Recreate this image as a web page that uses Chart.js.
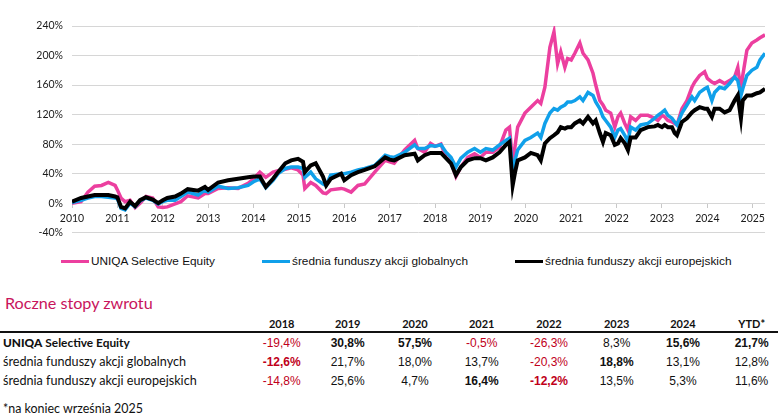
<!DOCTYPE html>
<html><head><meta charset="utf-8">
<script src="https://cdn.jsdelivr.net/npm/chart.js@4.4.1/dist/chart.umd.min.js"></script>
<style>
html,body{margin:0;padding:0;background:#fff;width:784px;height:420px;overflow:hidden;}
#wrap{position:relative;width:784px;height:420px;}
#c{position:absolute;left:0;top:0;}
.abs{position:absolute;white-space:nowrap;line-height:16px;}
.lg{font-family:"Liberation Sans",Arial,sans-serif;font-size:11.2px;color:#111;transform-origin:0 50%;}
.lgline{position:absolute;height:3.5px;width:28px;}
.title{font-family:Lato,"Open Sans",sans-serif;font-size:16px;color:#c8145c;line-height:20px;}
.hdr{font-family:Lato,sans-serif;font-weight:700;font-size:11px;color:#111;transform:translateX(-50%);}
.rl{font-family:Lato,sans-serif;font-size:12px;color:#111;}
.val{font-family:"Liberation Sans",Arial,sans-serif;font-size:12px;color:#111;transform:translateX(-50%);}
.note{font-family:Lato,sans-serif;font-size:12px;color:#111;}
</style></head><body>
<div id="wrap"><canvas id="c" width="784" height="248"></canvas></div>
<script>
// ---- data ----
const years = [2010.0,2010.2,2010.35,2010.5,2010.65,2010.8,2010.95,2011.0,2011.08,2011.17,2011.28,2011.39,2011.5,2011.63,2011.78,2011.9,2012.0,2012.1,2012.27,2012.4,2012.55,2012.78,2012.93,2013.0,2013.22,2013.44,2013.66,2013.88,2014.0,2014.14,2014.27,2014.43,2014.54,2014.7,2014.83,2014.98,2015.09,2015.13,2015.26,2015.37,2015.53,2015.6,2015.7,2015.93,2016.0,2016.15,2016.3,2016.45,2016.67,2016.9,2017.0,2017.1,2017.33,2017.55,2017.62,2017.77,2017.9,2018.0,2018.13,2018.24,2018.35,2018.46,2018.57,2018.72,2018.87,2019.0,2019.12,2019.27,2019.42,2019.56,2019.64,2019.71,2019.76,2019.82,2019.98,2020.11,2020.26,2020.33,2020.42,2020.53,2020.62,2020.7,2020.77,2020.86,2020.92,2021.0,2021.08,2021.19,2021.26,2021.37,2021.48,2021.54,2021.63,2021.7,2021.76,2021.87,2021.96,2022.03,2022.09,2022.18,2022.25,2022.31,2022.42,2022.53,2022.69,2022.84,2022.91,2023.0,2023.06,2023.13,2023.22,2023.28,2023.33,2023.44,2023.55,2023.66,2023.72,2023.83,2023.94,2024.0,2024.1,2024.16,2024.27,2024.38,2024.49,2024.6,2024.67,2024.74,2024.78,2024.87,2024.98,2025.09,2025.16,2025.27];
const uniqa = [0,2,15,23,24,28,24,18,7,2,4,-6,0,9,7,-5,-6,-5,-1,2,10,7,13,13,20,21,20,27,33,42,35,42,44,46,48,45,38,20,28,24,14,13,18,20,19,15,24,26,42,58,56,54,72,85,74,69,81,77,80,62,56,36,49,62,67,62,69,69,76,99,103,54,76,103,122,130,139,135,157,211,232,189,205,184,196,194,203,217,203,194,176,160,139,133,126,122,103,117,122,108,99,117,112,119,119,115,112,119,117,112,110,108,106,128,139,157,164,173,178,169,164,162,166,162,166,171,184,153,173,207,217,221,224,228];
const global = [1,4,7,9,9,8,7,6,-7,-9,0,-5,3,7,4,-1,2,4,4,9,15,11,18,15,23,20,21,24,29,33,21,31,40,47,49,49,47,35,42,33,26,24,38,40,40,42,45,47,51,65,63,62,69,79,74,74,78,77,79,69,62,49,61,69,74,69,74,72,79,85,88,45,58,72,85,89,95,89,108,122,128,126,130,133,137,137,139,144,139,150,146,137,128,117,112,103,89,99,101,92,83,103,99,106,108,115,119,123,126,119,115,110,106,122,133,144,139,150,155,157,139,150,157,155,162,171,166,146,155,173,180,184,194,203];
const europe = [2,7,9,11,11,11,9,8,-5,-7,2,-4,4,8,5,0,4,7,9,13,19,17,22,18,28,31,33,35,36,36,22,33,42,54,58,60,56,42,51,54,36,24,33,40,31,38,42,45,50,62,59,58,65,67,58,65,68,68,68,61,54,38,49,58,61,61,58,62,69,79,83,24,41,58,62,68,65,58,81,88,92,96,103,101,103,103,108,112,108,117,108,112,95,83,95,92,79,81,88,81,72,89,89,99,103,104,106,103,106,103,103,95,92,110,115,123,126,130,128,128,117,128,128,123,126,139,146,115,139,146,146,149,150,155];
const seriesLabels = ['UNIQA Selective Equity','średnia funduszy akcji globalnych','średnia funduszy akcji europejskich'];
const seriesColors = ['#ec3f9f','#10a0ea','#000000'];
const yMin = -40, yMax = 240, yStep = 40;
const xMin = 2010, xMax = 2025.27;
const tableTitle = 'Roczne stopy zwrotu';
const tableYears = ['2018','2019','2020','2021','2022','2023','2024','YTD*'];
const rowLabels = ['UNIQA Selective Equity','średnia funduszy akcji globalnych','średnia funduszy akcji europejskich'];
const rowValues = [
  ['-19,4%','30,8%','57,5%','-0,5%','-26,3%','8,3%','15,6%','21,7%'],
  ['-12,6%','21,7%','18,0%','13,7%','-20,3%','18,8%','13,1%','12,8%'],
  ['-14,8%','25,6%','4,7%','16,4%','-12,2%','13,5%','5,3%','11,6%']
];
const rowBold = [
  [0,1,1,0,0,0,1,1],
  [1,0,0,0,0,1,0,0],
  [0,0,0,1,1,0,0,0]
];
const footnote = '*na koniec września 2025';

// ---- chart ----
const seriesData = [uniqa, global, europe];
const datasets = seriesData.map((vals, i) => ({
  label: seriesLabels[i],
  data: years.map((x, j) => ({x: x, y: vals[j]})),
  borderColor: seriesColors[i],
  backgroundColor: seriesColors[i],
  borderWidth: i === 2 ? 4 : 3.5,
  pointRadius: 0,
  tension: 0,
  order: 3 - i
}));
const chart = new Chart(document.getElementById('c'), {
  type: 'line',
  data: {datasets},
  options: {
    responsive: false, animation: false, devicePixelRatio: 1,
    layout: {padding: {left: 0, right: 19, top: 26, bottom: 6.7}},
    plugins: {legend: {display: false}, tooltip: {enabled: false}},
    scales: {
      x: {
        type: 'linear', min: xMin, max: xMax, position: {y: 0},
        afterFit: s => { s.height = 0; },
        grid: {drawOnChartArea: false, drawTicks: true, tickLength: 5, color: '#c8c8c8'},
        border: {display: false},
        ticks: {stepSize: 1, includeBounds: false, autoSkip: false, maxRotation: 0, padding: 4,
          color: '#1a1a1a', font: {family: 'Lato', size: 10.5}, callback: v => String(v)}
      },
      y: {
        min: yMin, max: yMax,
        afterFit: s => { s.width = 72; },
        grid: {color: '#d6d6d6', lineWidth: 1, drawTicks: false},
        border: {display: false},
        ticks: {stepSize: yStep, padding: 9, color: '#1a1a1a', font: {family: 'Lato', size: 10.5}, callback: v => v + '%'}
      }
    }
  }
});

// ---- helpers ----
const wrap = document.getElementById('wrap');
function el(cls, txt, left, top) {
  const d = document.createElement('div');
  d.className = 'abs ' + cls;
  d.textContent = txt;
  d.style.left = left + 'px';
  d.style.top = top + 'px';
  wrap.appendChild(d);
  return d;
}
function fitSize(d, target) {
  const w = d.getBoundingClientRect().width;
  const fs = parseFloat(getComputedStyle(d).fontSize);
  return w > 0 ? fs * target / w : fs;
}

// ---- legend ----
const legendX = [61, 261.5, 515];
const legendW = [124, 176, 186.5];
seriesLabels.forEach((lab, i) => {
  const ln = document.createElement('div');
  ln.className = 'lgline';
  ln.style.left = legendX[i] + 'px';
  ln.style.top = '259.5px';
  ln.style.background = seriesColors[i];
  wrap.appendChild(ln);
  const t = el('lg', lab, legendX[i] + 30, 253);
  const w = t.getBoundingClientRect().width;
  t.style.transform = 'scaleX(' + (legendW[i] / w) + ')';
});

// ---- table ----
const ttl = el('title', tableTitle, 5, 293);
ttl.style.fontSize = fitSize(ttl, 147.7) + 'px';
const colX = [281.7, 347.7, 415, 481.7, 549, 616.7, 683, 751.7];
tableYears.forEach((y, i) => el('hdr', y, colX[i], 316));
const line = document.createElement('div');
line.style.cssText = 'position:absolute;left:0;top:331px;width:778px;height:1.5px;background:#111;';
wrap.appendChild(line);
const rowY = [335, 354, 373];
const labelEls = rowLabels.map((lab, r) => {
  let d;
  if (r === 0) {
    d = el('rl', '', 3, rowY[r]);
    const parts = lab.split(' ');
    d.innerHTML = '<b style="font-weight:900">' + parts[0] + '</b> <span style="font-weight:700">' + parts.slice(1).join(' ') + '</span>';
  } else {
    d = el('rl', lab, 3, rowY[r]);
  }
  rowValues[r].forEach((v, c) => {
    const e = el('val', v, colX[c], rowY[r]);
    if (rowBold[r][c]) e.style.fontWeight = '700';
    if (v.charAt(0) === '-') e.style.color = '#c0001a';
  });
  return d;
});
const rlSize = fitSize(labelEls[2], 194);
labelEls[1].style.fontSize = rlSize + 'px';
labelEls[2].style.fontSize = rlSize + 'px';
labelEls[0].style.fontSize = fitSize(labelEls[0], 127) + 'px';
const nt = el('note', footnote, 3, 401);
nt.style.fontSize = fitSize(nt, 140) + 'px';
</script>
</body></html>
